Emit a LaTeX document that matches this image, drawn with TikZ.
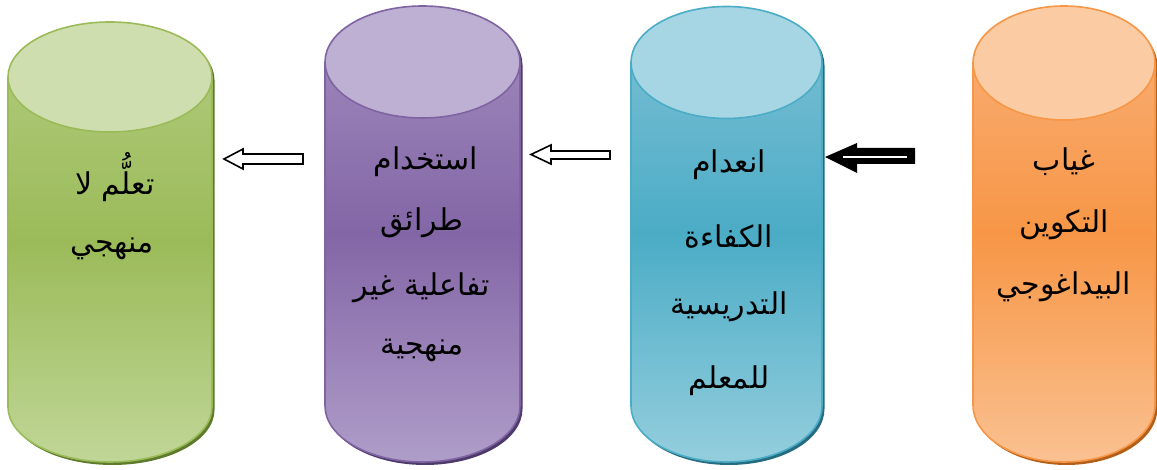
\documentclass[tikz,border=0pt]{standalone}
\usepackage{fontspec}
\newfontfamily\arabicfont[Script=Arabic]{DejaVu Sans}
\TeXXeTstate=1

% Office-style accent palettes: edge, top face, body light, body dark, body bottom, shadow
\definecolor{grEdge}{HTML}{9BBB59}\definecolor{grTop}{HTML}{CFDEAF}
\definecolor{grLight}{HTML}{B3CC80}\definecolor{grDark}{HTML}{9BBB59}
\definecolor{grBot}{HTML}{C0D697}\definecolor{grShadow}{HTML}{5E7A2C}
\definecolor{puEdge}{HTML}{8064A2}\definecolor{puTop}{HTML}{BEB0D2}
\definecolor{puLight}{HTML}{A28EBF}\definecolor{puDark}{HTML}{8366A6}
\definecolor{puBot}{HTML}{AF9DC9}\definecolor{puShadow}{HTML}{4E3A6B}
\definecolor{blEdge}{HTML}{4BACC6}\definecolor{blTop}{HTML}{A6D6E3}
\definecolor{blLight}{HTML}{80C1D5}\definecolor{blDark}{HTML}{4BACC6}
\definecolor{blBot}{HTML}{94CEDD}\definecolor{blShadow}{HTML}{256C80}
\definecolor{orEdge}{HTML}{F79646}\definecolor{orTop}{HTML}{FBCBA3}
\definecolor{orLight}{HTML}{F9B17B}\definecolor{orDark}{HTML}{F79646}
\definecolor{orBot}{HTML}{FAC191}\definecolor{orShadow}{HTML}{B35F17}

\tikzset{
  label text/.style={font=\arabicfont\fontsize{30}{34}\selectfont, text=black, inner sep=0pt, anchor=center},
  open arrow/.style={draw=black, line width=1.6pt, fill=white, line join=miter},
  solid arrow/.style={fill=black},
}

% #1 centre x, #2 x radius, #3 top centre y, #4 bottom centre y, #5 y radius, #6 palette prefix
\newcommand{\drawcylinder}[6]{%
  \fill[#6Shadow, shift={(2.5pt,-3pt)}]
    ({#1-#2},#3) -- ({#1-#2},#4)
    arc[start angle=180, end angle=360, x radius=#2, y radius=#5]
    -- ({#1+#2},#3) arc[start angle=0, end angle=180, x radius=#2, y radius=#5] -- cycle;
  \path[top color=#6Light, bottom color=#6Bot, middle color=#6Dark]
    ({#1-#2},#3) -- ({#1-#2},#4)
    arc[start angle=180, end angle=360, x radius=#2, y radius=#5]
    -- ({#1+#2},#3) arc[start angle=0, end angle=180, x radius=#2, y radius=#5] -- cycle;
  \draw[#6Edge, line width=1.6pt]
    ({#1-#2},#3) -- ({#1-#2},#4)
    arc[start angle=180, end angle=360, x radius=#2, y radius=#5]
    -- ({#1+#2},#3);
  \draw[#6Edge, line width=1.6pt, fill=#6Top] (#1,#3) ellipse[x radius=#2, y radius=#5];
}

\begin{document}
\begin{tikzpicture}[x=1pt, y=1pt]
  \useasboundingbox (0,0) rectangle (1157,470);

  % cylinders, left to right
  \drawcylinder{110}{102}{393}{63}{55}{gr}
  \drawcylinder{422.5}{97.5}{408}{64}{56}{pu}
  \drawcylinder{726.5}{95.5}{407.5}{64}{56}{bl}
  \drawcylinder{1064}{91}{407}{65}{57}{or}

  % labels of the green cylinder
  \node[label text] (g1) at (115,293) {\beginR تعلُّم لا\endR};
  \node[label text] (g2) at (112,221) {\beginR منهجي\endR};

  % labels of the purple cylinder
  \node[label text] (p1) at (426,308) {\beginR استخدام\endR};
  \node[label text] (p2) at (422,247) {\beginR طرائق\endR};
  \node[label text] (p3) at (422,182) {\beginR تفاعلية غير\endR};
  \node[label text] (p4) at (422,120) {\beginR منهجية\endR};

  % labels of the blue cylinder
  \node[label text] (b1) at (729,305) {\beginR انعدام\endR};
  \node[label text] (b2) at (729,233) {\beginR الكفاءة\endR};
  \node[label text] (b3) at (729,163) {\beginR التدريسية\endR};
  \node[label text] (b4) at (729,89)  {\beginR للمعلم\endR};

  % labels of the orange cylinder
  \node[label text] (o1) at (1064,308) {\beginR غياب\endR};
  \node[label text] (o2) at (1064,245) {\beginR التكوين\endR};
  \node[label text] (o3) at (1064,183) {\beginR البيداغوجي\endR};

  % block arrows pointing left between the cylinders
  \draw[open arrow] (224,311) -- (243,321) -- (243,316) -- (303,316)
    -- (303,306) -- (243,306) -- (243,301) -- cycle;
  \draw[open arrow] (531,315.5) -- (551,325) -- (551,319) -- (610,319)
    -- (610,311) -- (551,311) -- (551,306) -- cycle;
  \fill[solid arrow] (825,313) -- (857,327) -- (857,322) -- (915,322)
    -- (915,306) -- (857,306) -- (857,297) -- cycle;
  \draw[white, line width=1.5pt] (843,313) -- (907,313);
\end{tikzpicture}
\end{document}
